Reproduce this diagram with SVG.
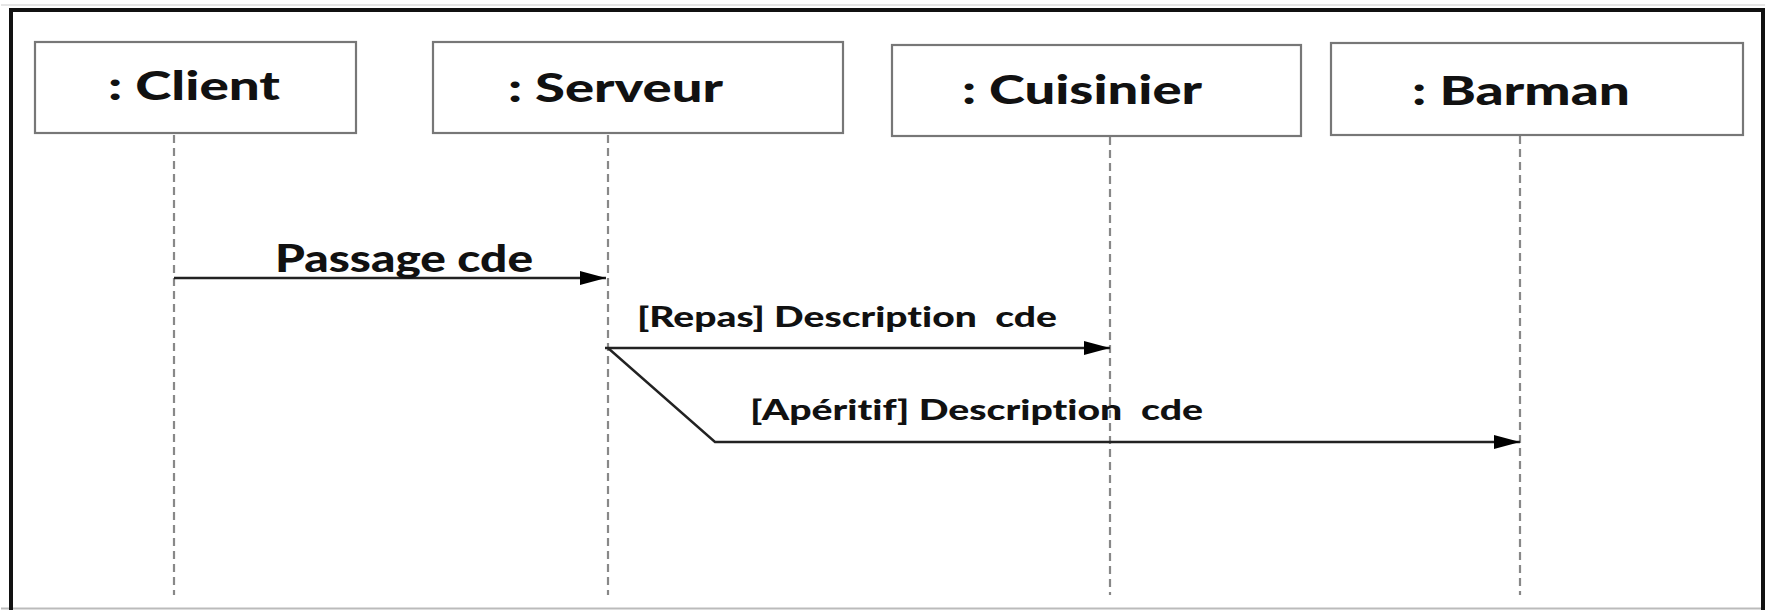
<svg xmlns="http://www.w3.org/2000/svg" width="1769" height="610" viewBox="0 0 1769 610">
  <style>
    .box { fill: #ffffff; stroke: #777777; stroke-width: 2.2; }
    .lbl { font-family: "Lato", "Liberation Sans", sans-serif; font-weight: 900; fill: #111111; white-space: pre; font-variant-ligatures: none; font-feature-settings: "liga" 0, "clig" 0; }
    .life { stroke: #888888; stroke-width: 2.2; stroke-dasharray: 8 5; fill: none; }
    .msg { stroke: #222222; stroke-width: 2.4; fill: none; }
  </style>
  <defs>
    <marker id="arrow" viewBox="0 0 26 14" refX="26" refY="7" markerWidth="26" markerHeight="14" markerUnits="userSpaceOnUse" orient="auto">
      <path d="M0,0 L26,7 L0,14 z" fill="#000000"/>
    </marker>
  </defs>
  <rect width="1769" height="610" fill="#ffffff"/>
  <g id="frame">
    <line x1="1" y1="5" x2="1765" y2="5" stroke="#dddddd" stroke-width="1.5"/>
    <line x1="1" y1="608.5" x2="1765" y2="608.5" stroke="#bbbbbb" stroke-width="2"/>
    <path d="M11,610 L11,10 L1763,10 L1763,610" fill="none" stroke="#111111" stroke-width="4"/>
  </g>
  <g id="lifelines">
    <line class="life" x1="174" y1="135" x2="174" y2="595"/>
    <line class="life" x1="608" y1="135" x2="608" y2="595"/>
    <line class="life" x1="1110" y1="137" x2="1110" y2="595"/>
    <line class="life" x1="1520" y1="136" x2="1520" y2="595"/>
  </g>
  <g id="client">
    <rect class="box" x="35" y="42" width="321" height="91"/>
    <text class="lbl" x="108" y="100" font-size="39" textLength="172" lengthAdjust="spacingAndGlyphs">: Client</text>
  </g>
  <g id="serveur">
    <rect class="box" x="433" y="42" width="410" height="91"/>
    <text class="lbl" x="508" y="102" font-size="39" textLength="215" lengthAdjust="spacingAndGlyphs">: Serveur</text>
  </g>
  <g id="cuisinier">
    <rect class="box" x="892" y="45" width="409" height="91"/>
    <text class="lbl" x="962" y="104" font-size="39" textLength="240" lengthAdjust="spacingAndGlyphs">: Cuisinier</text>
  </g>
  <g id="barman">
    <rect class="box" x="1331" y="43" width="412" height="92"/>
    <text class="lbl" x="1412" y="105" font-size="39" textLength="218" lengthAdjust="spacingAndGlyphs">: Barman</text>
  </g>
  <g id="connectors">
    <line class="msg" x1="174" y1="278" x2="606" y2="278" marker-end="url(#arrow)"/>
    <line class="msg" x1="605" y1="348" x2="1110" y2="348" marker-end="url(#arrow)"/>
    <polyline class="msg" points="608,348 715,442 1520,442" marker-end="url(#arrow)"/>
    <text class="lbl" x="275" y="272" font-size="37" textLength="258" lengthAdjust="spacingAndGlyphs">Passage cde</text>
    <text class="lbl" x="637" y="327" font-size="28" textLength="420" lengthAdjust="spacingAndGlyphs">[Repas] Description  cde</text>
    <text class="lbl" x="750" y="420" font-size="28" textLength="453" lengthAdjust="spacingAndGlyphs">[Apéritif] Description  cde</text>
  </g>
</svg>
